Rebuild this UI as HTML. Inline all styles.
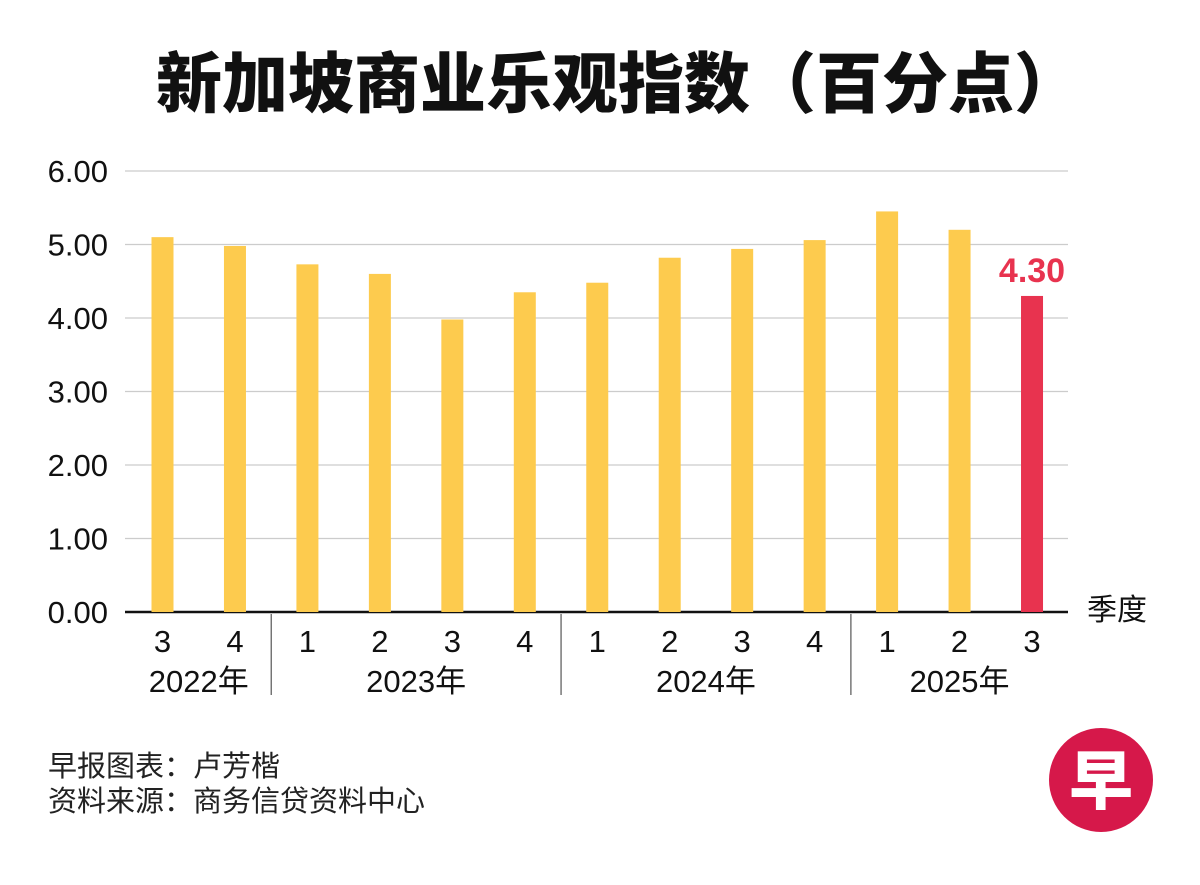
<!DOCTYPE html>
<html><head><meta charset="utf-8"><style>
body{margin:0;background:#fff;}
svg text{font-family:"Liberation Sans","Noto Sans CJK SC",sans-serif;}
</style></head><body>
<svg id="c" width="1200" height="880" xmlns="http://www.w3.org/2000/svg">
<text x="603" y="107" text-anchor="middle" font-size="66" font-weight="900" fill="#111" style="font-family:'Noto Sans CJK SC',sans-serif" transform="translate(15,0)">新加坡商业乐观指数（百分点）</text>
<g id="grid"></g><g id="bars"></g><g id="xl"></g>
<text x="1117" y="620" text-anchor="middle" font-size="30" fill="#111" style="font-family:'Noto Sans CJK SC',sans-serif">季度</text>
<text x="48" y="776" font-size="29" fill="#222" style="font-family:'Noto Sans CJK SC',sans-serif">早报图表：卢芳楷</text>
<text x="48" y="811" font-size="29" fill="#222" style="font-family:'Noto Sans CJK SC',sans-serif">资料来源：商务信贷资料中心</text>
<g><circle cx="1101" cy="780" r="52" fill="#d6184a"/><text x="1101" y="804" text-anchor="middle" font-size="64" font-weight="900" fill="#fff" style="font-family:'Noto Sans CJK SC',sans-serif">早</text></g>
</svg>
<script>
const quarters=["3","4","1","2","3","4","1","2","3","4","1","2","3"];
const values=[5.10,4.98,4.73,4.60,3.98,4.35,4.48,4.82,4.94,5.06,5.45,5.20,4.30];
const yTicks=[0,1,2,3,4,5,6];
const years=["2022年","2023年","2024年","2025年"];
const yearStart=[0,2,6,10];
const yearEnd=[1,5,9,12];
const NS="http://www.w3.org/2000/svg";
const y=v=>612-v*73.5;
const x=i=>162.5+i*72.46;
function mk(t,a,p){const e=document.createElementNS(NS,t);for(const k in a)e.setAttribute(k,a[k]);document.getElementById(p).appendChild(e);return e;}
yTicks.forEach(v=>{
 const l=mk('line',{x1:125,x2:1068,y1:y(v),y2:y(v),stroke:v===0?'#111':'#ccc','stroke-width':v===0?2.5:1.2},'grid');
 
 
 const t=mk('text',{x:108,y:y(v)+11,'text-anchor':'end','font-size':31,fill:'#111'},'grid');t.textContent=v.toFixed(2);
 
 
});
values.forEach((v,i)=>{
 const last=i===values.length-1;
 const r=mk('rect',{x:x(i)-11,y:y(v),width:22,height:y(0)-y(v),fill:last?'#e8334f':'#fdcb4e'},'bars');
 
 
 const t=mk('text',{x:x(i),y:652,'text-anchor':'middle','font-size':31,fill:'#111'},'xl');t.textContent=quarters[i];
 
 
 if(last){const lb=mk('text',{x:x(i),y:y(v)-14,'text-anchor':'middle','font-size':34,'font-weight':'bold',fill:'#e8334f'},'bars');lb.textContent=v.toFixed(2);
 
 }
});
years.forEach((yr,k)=>{
 const cx=(x(yearStart[k])+x(yearEnd[k]))/2;
 const t=mk('text',{x:cx,y:692,'text-anchor':'middle','font-size':31,fill:'#111'},'xl');t.textContent=yr;
 
 
 if(k>0){const sx=x(yearStart[k])-36.2;const l=mk('line',{x1:sx,x2:sx,y1:614,y2:695,stroke:'#555','stroke-width':1.2},'xl');
 
 }
});
</script>
</body></html>
